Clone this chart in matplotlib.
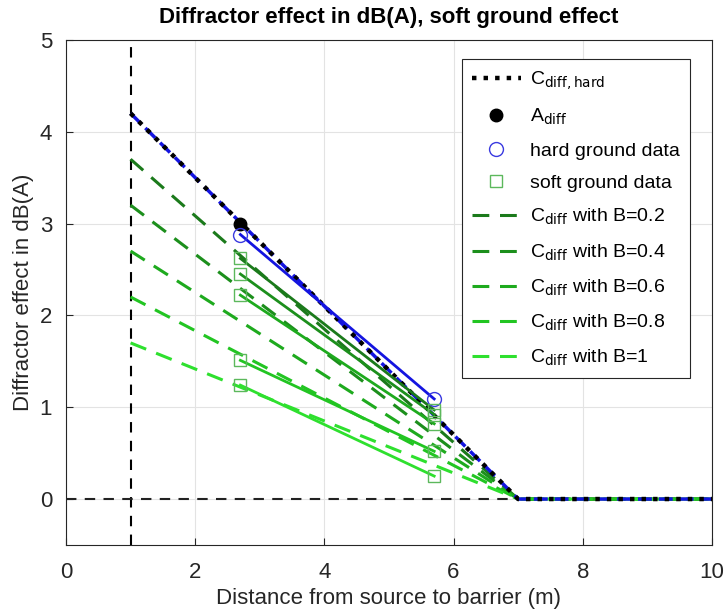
import matplotlib
matplotlib.use("Agg")
import matplotlib.pyplot as plt
import numpy as np

plt.rcParams['font.family'] = ['Liberation Sans', 'DejaVu Sans']

# ---- data ----
x_source = 1.0          # vertical reference line
x_end = 7.0             # where diffractor effect reaches zero
x_max = 10.0
C_hard_start = 4.2      # C_diff,hard at x=1
B_values = [0.2, 0.4, 0.6, 0.8, 1.0]
C_soft_start = [3.7, 3.2, 2.7, 2.2, 1.7]   # C_diff at x=1 for each B

A_diff_x = [2.7]
A_diff_y = [3.0]

data_x = [2.7, 5.7]
hard_data_y = [2.88, 1.09]
soft_data_y = [
    [2.62, 0.97],
    [2.45, 0.92],
    [2.22, 0.82],
    [1.51, 0.52],
    [1.24, 0.25],
]

green_colors = ['#1b7a1b', '#1c8f1c', '#1eaa1e', '#22c522', '#2ee02e']
blue = '#1414e0'
square_color = '#5cb85c'

fig = plt.figure(figsize=(7.25, 6.13), dpi=100)
ax = fig.add_axes([0.091, 0.111, 0.891, 0.824])

ax.set_xlim(0, 10)
ax.set_ylim(-0.5, 5)
ax.set_xticks([0, 2, 4, 6, 8, 10])
ax.set_yticks([0, 1, 2, 3, 4, 5])
ax.grid(True, color='#e3e3e3', linewidth=0.8)
ax.set_axisbelow(True)
ax.tick_params(direction='in', labelsize=16, length=5, colors='#262626',
               top=False, right=False)
ax.tick_params(axis='x', pad=12)
ax.tick_params(axis='y', pad=10)
for s in ax.spines.values():
    s.set_color('#262626')
    s.set_linewidth(0.8)

# reference lines
ax.plot([x_source, x_source], [-0.5, 5], color='black', linestyle=(0, (5, 4)), lw=1.5)
ax.plot([0, x_max], [0, 0], color='#222222', linestyle=(0, (5, 4)), lw=1.5)

# model curves
xs = [x_source, x_end, x_max]
soft_handles = []
for B, c0, col in zip(B_values, C_soft_start, green_colors):
    h, = ax.plot(xs, [c0, 0, 0], color=col, linestyle=(0, (5.5, 3.5)), lw=2.2,
                 label=r'C$_{\mathrm{diff}}$ with B=%g' % B)
    soft_handles.append(h)
ax.plot(xs, [C_hard_start, 0, 0], color=blue, linestyle=(0, (4, 2)), lw=2.5)
h_hard, = ax.plot(xs, [C_hard_start, 0, 0], color='black', linestyle=(0, (1, 1.6)),
                  lw=3.2, label=r'C$_{\mathrm{diff,hard}}$')

# data
ax.plot(data_x, hard_data_y, color=blue, lw=2)
for ys, col in zip(soft_data_y, green_colors):
    ax.plot(data_x, ys, color=col, lw=2)
h_A, = ax.plot(A_diff_x, A_diff_y, 'o', color='black', ms=9, linestyle='none',
               label=r'A$_{\mathrm{diff}}$')
h_hd, = ax.plot(data_x, hard_data_y, 'o', mfc='none', mec='#3a3ae0', ms=10, mew=1,
                linestyle='none', label='hard ground data')
sq_x = [data_x[0]] * len(soft_data_y) + [data_x[1]] * len(soft_data_y)
sq_y = [s[0] for s in soft_data_y] + [s[1] for s in soft_data_y]
h_sd, = ax.plot(sq_x, sq_y, 's', mfc='none', mec=square_color, ms=9, mew=1,
                linestyle='none', label='soft ground data')

handles = [h_hard, h_A, h_hd, h_sd] + soft_handles
leg = ax.legend(handles=handles, loc='upper right', bbox_to_anchor=(0.966, 0.962),
                fontsize=14, handlelength=2.5, handletextpad=0.5, labelspacing=0.77,
                frameon=True, fancybox=False, framealpha=1, edgecolor='#262626',
                borderpad=0.5, borderaxespad=0.0)
leg.get_frame().set_linewidth(0.8)

ax.set_title('Diffractor effect in dB(A), soft ground effect', fontsize=16,
             fontweight='bold', pad=12)
ax.set_xlabel('Distance from source to barrier (m)', fontsize=16, color='#262626',
              labelpad=4)
ax.set_ylabel('Diffractor effect in dB(A)', fontsize=16, color='#262626',
              labelpad=4)

fig.savefig('out.png', dpi=100)
